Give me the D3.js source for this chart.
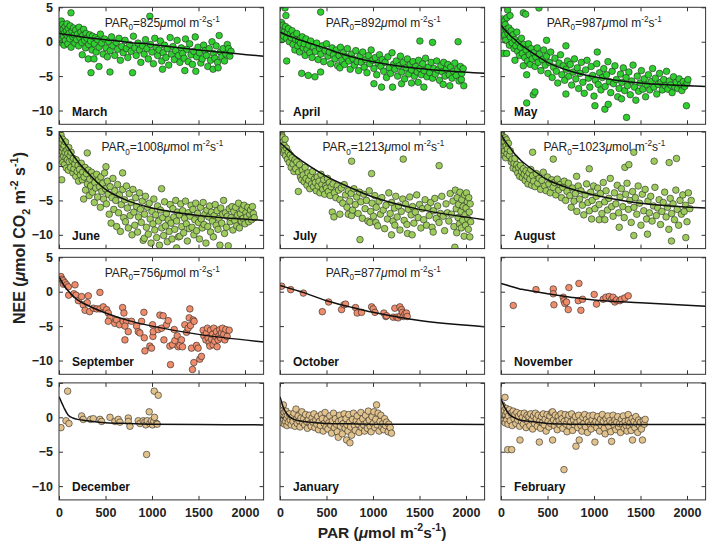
<!DOCTYPE html>
<html><head><meta charset="utf-8">
<script src="https://cdn.jsdelivr.net/npm/d3@7"></script>
<style>
html,body{margin:0;padding:0;background:#fff;}
svg{display:block;font-family:"Liberation Sans",Arial,sans-serif;}
</style></head>
<body><svg id="c" width="709" height="546"></svg>
<script>
// ---------- data ----------
const months = ["March","April","May","June","July","August","September","October","November","December","January","February"];
const par0Labels = ["825","892","987","1008","1213","1023","756","877",null,null,null,null];
const xTicks = [0,500,1000,1500,2000];
const yTicks = [-10,-5,0,5];
const fitPAR = [0,50,100,150,200,250,500,750,1000,1500,2200];

const marchFit  = [1.2,1.1,1.0,0.9,0.8,0.7,0.3,-0.1,-0.4,-1.2,-2.1];
const aprilFit  = [1.4,1.1,0.8,0.6,0.3,0.1,-1.0,-2.1,-2.9,-3.9,-4.6];
const mayFit    = [2.4,1.6,0.9,0.3,-0.3,-0.8,-3.0,-4.3,-5.1,-6.0,-6.5];
const juneFit   = [4.7,3.6,2.6,1.6,0.7,-0.1,-3.4,-5.1,-6.1,-7.2,-7.9];
const julyFit   = [3.4,2.8,2.2,1.6,1.1,0.6,-1.5,-3.1,-4.5,-6.3,-7.8];
const augustFit = [4.6,3.5,2.6,1.7,1.0,0.4,-2.0,-3.3,-4.2,-5.4,-6.1];
const septFit   = [2.2,1.0,0.1,-0.6,-1.2,-1.6,-3.1,-4.2,-5.0,-6.2,-7.3];
const octFit    = [0.9,0.7,0.5,0.3,0.1,-0.1,-1.3,-2.2,-3.0,-4.2,-5.1];
const novFit    = [1.2,1.0,0.8,0.6,0.4,0.3,-0.3,-0.8,-1.2,-1.6,-2.1];
const decFit    = [3.0,1.5,0.3,-0.1,-0.3,-0.4,-0.8,-0.9,-1.0,-1.05,-1.1];
const janFit    = [3.0,1.0,0.1,-0.3,-0.5,-0.6,-0.9,-0.95,-1.0,-1.0,-1.05];
const febFit    = [2.7,1.2,0.3,-0.1,-0.4,-0.5,-0.9,-1.0,-1.05,-1.05,-1.05];

const marchPts = [[10,1.5],[15,0.5],[20,2.0],[25,3.0],[30,1.0],[35,-0.2],[40,2.5],[45,1.8],[50,0.8],[55,-0.5],[60,1.3],[65,2.2],[70,0.2],[80,1.6],[85,2.6],[90,0.9],[95,-0.3],[100,1.9],[110,1.2],[115,0.4],[120,2.3],[129,4.2],[130,-0.8],[140,1.5],[150,0.7],[155,2.0],[165,1.0],[170,-0.2],[180,1.7],[190,0.3],[200,1.1],[210,-0.6],[215,2.1],[225,0.6],[235,1.4],[245,-0.1],[250,-1.9],[255,0.9],[265,1.8],[275,0.2],[285,-0.9],[290,1.2],[300,0.5],[315,-2.5],[320,-0.4],[330,1.0],[340,0.1],[344,-4.5],[355,-1.2],[360,0.8],[376,-2.5],[380,-0.3],[395,0.6],[400,-1.5],[415,0.3],[430,-3.6],[430,-0.8],[445,1.1],[460,-0.2],[475,-1.8],[490,0.4],[505,-0.9],[520,-2.2],[535,0.0],[548,-4.4],[550,-1.3],[565,0.7],[580,-0.6],[600,-2.0],[615,-0.1],[630,-1.1],[645,0.5],[660,-2.7],[675,-0.7],[690,-1.6],[710,0.2],[725,-1.0],[740,-2.3],[760,-0.4],[775,-1.4],[791,-4.5],[800,0.8],[815,-0.9],[830,-2.0],[850,-0.2],[865,-1.2],[880,-3.0],[900,-0.6],[915,-1.8],[930,0.3],[945,-1.0],[960,-2.5],[977,3.7],[985,-0.4],[1000,-1.5],[1015,-3.2],[1030,0.5],[1045,-0.8],[1060,-2.0],[1075,-1.2],[1090,0.1],[1105,-2.8],[1113,-4.0],[1120,-1.6],[1135,-0.5],[1150,-2.3],[1165,-1.0],[1180,-3.4],[1195,0.6],[1210,-1.8],[1225,-0.7],[1240,-2.6],[1255,-1.3],[1270,0.2],[1285,-2.0],[1300,-3.0],[1315,-0.9],[1330,-1.7],[1345,-2.4],[1353,-4.2],[1360,0.4],[1375,-1.1],[1390,-2.9],[1405,-0.3],[1420,-1.9],[1435,-3.3],[1450,-1.4],[1465,0.7],[1471,-4.3],[1480,-2.2],[1495,-0.8],[1510,-1.6],[1525,-3.1],[1540,-2.5],[1555,-0.5],[1570,-1.3],[1585,-2.0],[1600,-3.6],[1615,-1.0],[1630,-2.7],[1645,0.0],[1657,-4.0],[1660,-1.7],[1675,-2.4],[1690,-0.6],[1705,-3.0],[1711,-3.8],[1722,0.9],[1735,-1.5],[1750,-2.2],[1765,-1.0],[1780,-2.8],[1795,-1.8],[1810,-0.4],[1822,-1.0],[1837,-2.1],[1850,-1.4]];

const aprilPts = [[5,2.0],[10,1.0],[15,2.8],[20,0.3],[25,1.7],[30,2.4],[40,0.8],[50,1.5],[54,4.9],[60,2.2],[64,3.8],[70,0.5],[72,-2.8],[80,1.3],[90,1.9],[100,0.0],[110,1.1],[120,0.6],[130,1.6],[140,-0.4],[150,0.9],[160,-1.2],[170,0.3],[180,1.2],[190,-0.6],[200,0.2],[210,-1.5],[220,-0.2],[233,-4.6],[240,0.7],[250,-0.9],[260,-0.3],[270,-2.0],[280,0.4],[290,-1.1],[304,-4.9],[310,-0.5],[320,-1.6],[330,0.1],[345,-2.3],[360,-0.8],[376,-5.1],[380,-1.4],[395,-0.2],[410,-2.6],[425,-1.0],[437,4.3],[437,-4.4],[440,-1.8],[455,-0.6],[470,-2.9],[485,-1.3],[500,-0.3],[515,-2.1],[530,-1.5],[545,-3.2],[560,-0.9],[575,-1.9],[590,-2.5],[605,-1.2],[620,-3.5],[635,-2.0],[644,-3.8],[650,-0.8],[665,-2.7],[680,-1.6],[695,-3.3],[710,-2.2],[725,-1.0],[740,-2.8],[755,-4.0],[770,-1.8],[785,-2.5],[800,-3.4],[815,-1.3],[830,-2.9],[845,-4.2],[860,-2.1],[875,-3.0],[890,-1.5],[905,-3.7],[920,-2.6],[935,-4.5],[950,-2.0],[965,-3.2],[980,-1.2],[995,-2.7],[1010,-6.1],[1010,-3.9],[1025,-2.3],[1040,-4.8],[1055,-3.1],[1070,-1.9],[1085,-3.6],[1092,-6.6],[1100,-2.6],[1115,-4.3],[1130,-3.0],[1145,-5.2],[1160,-2.2],[1175,-3.8],[1190,-4.6],[1205,-1.6],[1210,-6.6],[1220,-3.3],[1235,-4.0],[1250,-2.8],[1265,-5.0],[1280,-3.5],[1295,-2.1],[1307,-6.1],[1310,-4.4],[1325,-3.0],[1340,-5.4],[1355,-3.8],[1370,-2.5],[1385,-4.7],[1400,-3.3],[1414,-6.0],[1415,-4.1],[1430,-2.9],[1445,-5.0],[1460,-3.6],[1475,-4.4],[1486,-5.9],[1490,-2.7],[1504,0.1],[1505,-3.9],[1520,-4.8],[1535,-3.2],[1547,-6.6],[1550,-4.2],[1565,-2.4],[1580,-5.1],[1595,-3.7],[1610,-4.5],[1625,-3.0],[1640,-0.1],[1640,-5.3],[1655,-3.9],[1670,-4.7],[1685,-2.8],[1700,-4.1],[1715,-5.6],[1730,-3.5],[1745,-4.4],[1754,-6.2],[1760,-3.0],[1775,-5.0],[1790,-4.0],[1805,-3.3],[1820,-4.8],[1826,-6.4],[1835,-3.7],[1850,-5.3],[1865,-4.3],[1880,-3.1],[1895,-4.9],[1910,-4.0],[1915,0.0],[1925,-5.7],[1940,-3.6],[1951,-5.5],[1955,-4.6],[1976,-6.4],[1970,-3.9]];

const mayPts = [[5,2.8],[10,1.5],[15,3.3],[20,0.8],[25,-1.7],[30,2.2],[35,3.0],[40,1.0],[45,2.5],[50,0.2],[55,1.8],[61,-1.7],[65,3.5],[72,4.6],[75,1.2],[85,2.0],[90,-0.5],[97,3.8],[100,0.7],[110,1.6],[120,-0.2],[130,1.0],[140,-1.0],[150,-2.7],[150,0.3],[160,-0.6],[170,1.4],[180,-1.4],[190,-0.1],[200,-2.0],[210,-0.8],[220,0.5],[230,-1.7],[240,-3.5],[240,4.2],[245,-0.4],[255,-2.3],[265,4.0],[270,-1.2],[276,-4.8],[276,-8.9],[285,-2.8],[295,-0.3],[305,-1.9],[315,-3.3],[325,-1.0],[335,-2.5],[347,-7.7],[350,-1.6],[365,-7.3],[365,-3.6],[375,-2.2],[390,-0.9],[400,-3.0],[408,4.9],[415,-1.8],[430,-4.2],[445,-2.6],[460,-1.2],[475,-3.4],[490,0.2],[490,-2.1],[505,-4.6],[520,-3.0],[535,-1.5],[550,-5.2],[565,-3.7],[580,-2.4],[595,-4.3],[610,-6.0],[625,-3.1],[640,-1.9],[655,-4.8],[670,-3.5],[685,-5.6],[698,-0.6],[698,-7.6],[700,-4.0],[715,-2.8],[730,-5.0],[745,-3.3],[760,-6.3],[775,-4.4],[790,-2.5],[805,-5.4],[820,-3.8],[835,-6.8],[850,-4.6],[865,-3.0],[880,-5.9],[895,-7.5],[910,-4.1],[925,-2.7],[940,-5.3],[955,-6.6],[970,-3.6],[985,-4.9],[1000,-7.9],[1010,-9.3],[1015,-5.6],[1030,-3.2],[1035,-1.5],[1045,-6.2],[1060,-4.5],[1075,-7.0],[1090,-5.2],[1105,-3.9],[1117,-9.8],[1120,-6.5],[1135,-4.8],[1150,-2.9],[1153,-9.1],[1165,-5.8],[1180,-7.4],[1195,-4.3],[1210,-6.1],[1225,-3.5],[1240,-5.5],[1255,-8.0],[1270,-6.8],[1285,-4.7],[1296,-8.3],[1300,-5.9],[1315,-3.8],[1330,-7.1],[1345,-5.2],[1350,-11.0],[1360,-6.4],[1375,-4.4],[1390,-7.7],[1405,-5.7],[1420,-3.4],[1435,-6.6],[1450,-8.5],[1465,-5.0],[1480,-7.2],[1495,-6.0],[1510,-4.2],[1525,-6.9],[1540,-5.4],[1555,-8.0],[1570,-6.3],[1585,-4.8],[1600,-7.0],[1615,-5.8],[1630,-3.9],[1645,-6.6],[1660,-5.3],[1675,-7.6],[1690,-6.2],[1705,-4.6],[1720,-5.9],[1735,-7.0],[1750,-5.5],[1765,-6.4],[1780,-4.3],[1795,-6.9],[1810,-5.7],[1825,-6.3],[1840,-7.4],[1855,-5.1],[1870,-6.6],[1885,-5.9],[1900,-6.8],[1915,-5.4],[1930,-6.2],[1945,-7.1],[1960,-5.8],[1975,-6.5],[1994,-9.3],[2000,-6.0],[2010,-5.5]];

const junePts = [[5,4.3],[8,3.2],[10,2.5],[12,4.0],[15,1.6],[18,3.6],[20,2.8],[22,4.5],[25,1.0],[29,-2.0],[30,3.3],[35,2.1],[38,3.9],[40,0.5],[45,2.6],[50,1.4],[55,3.0],[60,0.2],[65,2.0],[70,3.5],[75,1.2],[80,-0.3],[85,2.3],[90,0.9],[95,1.8],[100,-0.6],[105,2.7],[110,0.6],[120,1.5],[125,-0.2],[130,2.0],[140,0.8],[150,-1.0],[155,1.1],[160,-0.4],[170,0.3],[180,-1.5],[185,0.9],[195,-0.8],[205,0.1],[210,-2.2],[220,-0.5],[230,-1.3],[240,0.4],[250,-2.0],[255,-0.9],[265,-4.8],[270,-1.6],[280,-0.2],[285,-3.5],[295,-1.1],[304,1.9],[305,-2.6],[315,-0.6],[325,-4.3],[330,-1.9],[340,-2.9],[350,-0.9],[360,-3.8],[370,-1.5],[380,-5.3],[385,-2.4],[395,-3.2],[405,-1.2],[415,-4.5],[425,-2.0],[435,-3.0],[445,-6.0],[450,-1.6],[460,-3.7],[470,-2.5],[480,-4.8],[490,-1.0],[500,-3.3],[505,-0.1],[510,-5.5],[520,-2.2],[530,-4.1],[540,-7.0],[550,-3.0],[560,-8.3],[570,-4.6],[580,-1.8],[590,-6.3],[600,-3.6],[610,-5.0],[620,-8.8],[630,-2.7],[640,-6.8],[650,-4.2],[660,-9.5],[670,-5.6],[684,-1.0],[685,-3.4],[695,-7.5],[705,-4.9],[715,-8.1],[725,-2.9],[735,-6.1],[745,-9.0],[755,-4.0],[765,-7.2],[775,-5.3],[785,-10.0],[795,-3.4],[805,-6.7],[815,-8.6],[825,-4.6],[835,-5.9],[845,-9.6],[855,-7.4],[865,-3.9],[875,-6.3],[885,-8.2],[895,-5.1],[905,-10.8],[917,-10.5],[920,-7.0],[930,-4.4],[940,-8.9],[950,-6.0],[960,-9.9],[970,-5.4],[980,-7.7],[990,-11.2],[1000,-6.6],[1010,-8.4],[1020,-4.8],[1030,-9.3],[1040,-7.1],[1050,-10.4],[1060,-5.8],[1070,-8.0],[1080,-11.5],[1090,-6.4],[1103,-3.3],[1105,-9.0],[1115,-7.5],[1125,-10.1],[1135,-5.2],[1145,-8.7],[1155,-6.9],[1165,-11.0],[1175,-7.8],[1185,-9.5],[1195,-5.6],[1205,-8.3],[1215,-10.6],[1225,-6.2],[1235,-7.4],[1245,-9.2],[1255,-5.0],[1264,-11.9],[1265,-8.0],[1275,-6.7],[1285,-10.3],[1295,-7.1],[1300,-10.2],[1310,-5.5],[1320,-8.8],[1330,-6.5],[1340,-9.7],[1350,-7.6],[1360,-5.1],[1370,-8.4],[1380,-10.9],[1390,-6.8],[1400,-9.1],[1410,-7.3],[1420,-5.7],[1430,-8.9],[1440,-6.3],[1450,-10.0],[1460,-7.8],[1470,-5.4],[1480,-9.4],[1490,-6.9],[1500,-8.2],[1510,-10.6],[1520,-6.0],[1530,-7.7],[1540,-9.0],[1550,-5.3],[1560,-8.5],[1570,-7.0],[1580,-11.2],[1590,-6.4],[1600,-8.8],[1610,-7.4],[1620,-5.8],[1630,-9.6],[1640,-6.7],[1650,-8.0],[1660,-10.3],[1670,-7.2],[1680,-5.6],[1690,-8.6],[1700,-6.5],[1710,-9.2],[1720,-7.6],[1730,-11.5],[1740,-6.1],[1750,-8.3],[1760,-7.0],[1770,-5.0],[1780,-9.8],[1790,-6.8],[1800,-8.9],[1810,-7.3],[1820,-11.6],[1830,-6.2],[1840,-8.1],[1850,-7.5],[1860,-5.9],[1870,-9.3],[1880,-6.6],[1890,-7.9],[1900,-6.0],[1910,-8.7],[1920,-7.1],[1930,-5.4],[1940,-9.0],[1950,-6.9],[1960,-8.0],[1970,-6.3],[1980,-7.6],[1990,-5.7],[2000,-8.4],[2010,-6.8],[2020,-7.4],[2030,-6.0],[2040,-8.1],[2050,-7.0],[2060,-6.4],[2070,-7.8],[2080,-5.9],[2090,-6.9],[2100,-7.5]];

const julyPts = [[5,3.8],[8,4.5],[10,2.9],[12,4.0],[15,3.3],[18,4.6],[20,2.4],[22,3.7],[25,4.2],[30,2.8],[35,3.5],[40,1.9],[45,3.0],[50,2.3],[55,3.9],[60,1.5],[70,2.6],[80,1.0],[90,2.0],[100,0.5],[110,1.6],[120,-0.2],[130,1.2],[140,0.3],[150,-0.8],[160,0.9],[170,-0.4],[180,0.6],[197,-3.7],[200,-0.9],[210,0.2],[220,-1.6],[233,-2.0],[240,-0.6],[250,-1.3],[260,-2.3],[270,-0.2],[280,-1.8],[290,-2.8],[300,-1.0],[310,-2.1],[320,-3.3],[330,-1.4],[340,-2.6],[350,-0.8],[360,-3.0],[370,-1.9],[380,-2.4],[390,-3.6],[400,-1.6],[410,-2.9],[420,-2.2],[430,-3.9],[440,-1.2],[450,-2.7],[460,-3.4],[470,-2.0],[480,-4.1],[490,-2.9],[500,-3.2],[510,-1.8],[520,-3.7],[530,-2.4],[540,-4.3],[550,-3.0],[562,-6.7],[570,-2.6],[580,-7.4],[585,-3.9],[600,-4.6],[615,-2.9],[630,-3.5],[644,-7.0],[645,-4.9],[660,-3.2],[675,-5.4],[690,-2.7],[705,-4.2],[720,-6.0],[734,-7.0],[735,-3.6],[750,-5.1],[765,-4.0],[770,0.7],[770,-7.2],[780,-6.4],[795,-3.3],[810,-5.6],[825,-4.5],[840,-6.9],[855,-3.8],[860,-10.7],[870,-5.2],[885,-7.6],[900,-4.1],[915,-6.2],[930,-5.0],[945,-8.0],[960,-3.6],[967,-8.2],[975,-6.6],[985,-1.1],[990,-5.4],[1005,-7.3],[1020,-4.3],[1031,-8.2],[1035,-6.0],[1050,-8.7],[1065,-5.1],[1080,-7.0],[1095,-4.6],[1110,-6.4],[1125,-9.1],[1140,-5.7],[1155,-7.7],[1170,-3.9],[1185,-6.9],[1199,-10.0],[1200,-5.3],[1215,-8.0],[1235,-8.6],[1230,-6.1],[1245,-4.4],[1260,-7.4],[1275,-5.8],[1290,-9.3],[1305,-6.6],[1320,-4.8],[1325,1.0],[1335,-7.9],[1350,-5.5],[1365,-8.5],[1371,-9.8],[1380,-6.3],[1395,-4.5],[1410,-7.1],[1421,-10.0],[1425,-5.9],[1440,-8.3],[1455,-6.7],[1470,-4.2],[1485,-7.5],[1500,-5.6],[1515,-9.0],[1530,-6.2],[1545,-7.8],[1560,-4.9],[1575,-8.6],[1590,-6.0],[1605,-7.2],[1620,-5.3],[1635,-8.9],[1647,-9.6],[1650,-6.5],[1665,-4.7],[1680,-7.6],[1695,-5.8],[1711,0.05],[1710,-8.2],[1725,-6.9],[1740,-4.4],[1755,-7.3],[1770,-9.4],[1785,-5.5],[1800,-6.8],[1815,-8.0],[1830,-4.0],[1845,-7.0],[1860,-5.1],[1870,-8.8],[1880,-11.8],[1885,-3.5],[1895,-6.2],[1900,-9.7],[1905,-4.6],[1915,-7.5],[1920,-5.6],[1930,-8.4],[1935,-3.8],[1945,-6.6],[1950,-9.0],[1955,-4.9],[1965,-7.9],[1970,-5.9],[1980,-10.2],[1985,-4.2],[1990,-7.1],[1995,-8.6],[2000,-6.1],[2005,-3.9],[2015,-5.2],[2020,-7.7],[2025,-9.2],[2030,-4.6],[2035,-6.7],[2041,-10.3],[2045,-5.5],[2050,-8.1]];

const augustPts = [[5,3.5],[8,4.6],[10,2.4],[12,3.9],[15,4.3],[18,2.0],[20,3.2],[25,4.0],[28,2.7],[30,1.6],[35,3.6],[40,2.2],[45,4.1],[50,1.2],[55,2.9],[60,3.8],[65,1.8],[70,2.5],[80,3.3],[90,1.5],[100,2.2],[110,0.6],[120,1.0],[130,-0.3],[140,0.4],[150,1.1],[160,-0.5],[170,0.2],[180,-1.0],[190,-0.2],[200,-1.5],[210,0.1],[220,-0.8],[230,-1.7],[240,-0.4],[250,-1.2],[260,-2.1],[270,-0.7],[280,-1.5],[290,-2.6],[300,-1.0],[310,-1.9],[320,-0.5],[330,-2.8],[340,2.0],[340,-1.4],[350,-2.2],[365,-3.0],[380,-1.1],[395,-2.5],[410,-1.8],[425,-3.4],[440,-2.1],[455,-0.9],[470,-2.9],[485,-3.6],[500,-1.6],[515,-2.6],[530,-3.9],[545,-2.0],[562,1.0],[560,-3.1],[575,-2.4],[590,-4.2],[605,-1.9],[620,-3.5],[635,-2.7],[650,-4.6],[665,-3.1],[680,-2.2],[695,-5.0],[710,-3.7],[725,-2.5],[740,-4.3],[755,-6.0],[770,-3.2],[785,-5.1],[800,-4.0],[813,-1.5],[815,-6.6],[830,-2.9],[845,-4.8],[860,-3.6],[875,-5.7],[890,-7.1],[905,-4.2],[920,-2.6],[935,-5.3],[949,-0.4],[950,-6.5],[965,-3.8],[974,-7.7],[980,-5.0],[995,-2.9],[1010,-6.2],[1025,-4.4],[1040,-3.2],[1056,-7.8],[1055,-5.6],[1070,-4.0],[1085,-6.9],[1100,-2.4],[1117,-7.8],[1115,-5.2],[1130,-3.6],[1145,-6.4],[1160,-4.7],[1175,-1.8],[1190,-5.9],[1205,-7.3],[1220,-3.9],[1235,-5.5],[1250,-2.8],[1265,-6.8],[1271,-8.9],[1280,-4.5],[1295,-3.3],[1310,-5.9],[1325,-7.5],[1332,-0.2],[1340,-4.1],[1355,-2.5],[1370,-6.3],[1375,0.2],[1385,-5.0],[1400,-8.2],[1415,-3.7],[1428,2.0],[1428,-10.1],[1430,-6.0],[1445,-4.6],[1460,-7.0],[1475,-2.9],[1490,-5.4],[1505,-8.6],[1520,-4.1],[1535,-6.5],[1550,-3.4],[1565,-7.7],[1575,-9.9],[1580,-5.1],[1595,-6.8],[1610,-4.4],[1625,-8.0],[1640,-5.8],[1647,0.7],[1655,-3.1],[1670,-7.2],[1685,-6.1],[1700,-4.9],[1715,-8.5],[1730,-6.6],[1745,-5.3],[1760,-3.8],[1775,-7.4],[1790,-6.0],[1805,-9.2],[1808,0.5],[1820,-4.7],[1833,-10.9],[1835,-6.9],[1850,-5.5],[1865,-7.8],[1880,-3.5],[1887,1.1],[1895,-6.3],[1910,-8.6],[1925,-5.0],[1940,-7.0],[1955,-4.2],[1970,-6.6],[1987,-10.4],[1985,-5.7],[2000,-8.1],[2015,-3.9],[2030,-6.2],[2045,-5.0]];

const septPts = [[4,1.9],[21,2.2],[32,1.8],[47,1.6],[47,1.1],[64,1.3],[82,1.0],[100,0.7],[104,-0.5],[160,-0.3],[172,1.0],[183,-0.5],[208,-1.3],[243,-0.7],[260,-1.9],[280,-2.7],[304,-1.6],[315,-0.6],[330,-2.9],[369,-2.4],[405,-2.5],[440,-0.1],[440,-2.5],[476,-2.2],[512,-2.6],[530,-3.1],[548,-3.8],[530,-4.3],[600,-4.6],[619,-4.1],[650,-4.8],[684,-2.3],[698,-3.1],[691,-4.3],[727,-4.3],[709,-5.0],[709,-7.0],[745,-5.8],[780,-4.3],[834,-5.0],[852,-5.8],[870,-6.0],[888,-4.3],[913,-3.0],[917,-6.7],[924,-8.6],[977,-7.9],[995,-8.2],[1006,-4.8],[1010,-6.5],[1013,-5.8],[1067,-5.5],[1085,-3.4],[1103,-5.3],[1120,-3.5],[1128,-7.0],[1156,-4.8],[1174,-4.2],[1192,-7.9],[1199,-10.6],[1221,-7.7],[1239,-5.5],[1246,-7.1],[1271,-6.4],[1282,-8.0],[1300,-7.8],[1317,-7.0],[1328,-8.0],[1353,-4.8],[1371,-5.9],[1389,-5.3],[1400,-3.8],[1407,-2.5],[1414,-4.9],[1425,-8.2],[1443,-4.1],[1453,-4.3],[1450,-10.3],[1435,-11.3],[1478,-7.8],[1496,-8.2],[1514,-9.8],[1532,-9.4],[1550,-5.6],[1557,-6.4],[1579,-7.0],[1586,-6.0],[1596,-5.3],[1604,-6.7],[1615,-7.4],[1622,-7.9],[1629,-5.6],[1640,-6.9],[1650,-6.2],[1657,-7.7],[1665,-5.3],[1675,-7.2],[1686,-6.5],[1693,-5.8],[1700,-8.0],[1711,-7.0],[1722,-6.4],[1729,-5.5],[1736,-6.7],[1747,-6.0],[1758,-5.3],[1772,-6.2],[1783,-7.0],[1794,-5.5],[1808,-6.5],[1830,-5.6]];

const octPts = [[18,0.8],[115,0.3],[251,-0.2],[455,-2.9],[523,-1.5],[662,-2.6],[688,-1.9],[705,-1.8],[812,-2.3],[830,-3.1],[877,-3.0],[985,-2.2],[1003,-2.5],[1021,-3.0],[1117,-3.1],[1138,-3.6],[1146,-3.5],[1217,-3.7],[1235,-2.4],[1253,-3.7],[1271,-3.8],[1289,-2.2],[1296,-3.5],[1307,-2.6],[1317,-3.0],[1325,-3.6],[1343,-3.2],[1360,-3.1],[1368,-3.6]];

const novPts = [[132,-2.0],[376,0.3],[562,0.4],[562,-0.3],[569,-1.9],[669,-0.8],[677,-1.3],[687,-1.7],[705,-1.5],[723,-2.6],[730,0.6],[838,1.2],[831,-1.3],[859,-2.7],[877,-1.1],[1002,-0.4],[1027,-1.8],[1099,-1.1],[1128,-0.8],[1163,-0.7],[1189,-1.1],[1206,-0.8],[1224,-1.5],[1242,-1.2],[1278,-1.3],[1296,-1.1],[1332,-0.9],[1368,-0.6]];

const decPts = [[21,-1.5],[93,3.8],[75,-0.5],[107,-0.9],[243,0.2],[261,-0.3],[340,-0.3],[369,-0.2],[440,-0.3],[458,-0.6],[548,0.0],[601,-0.6],[637,-0.3],[655,-0.7],[745,-0.1],[745,-0.6],[763,-1.3],[852,-0.5],[870,-0.9],[906,-0.5],[924,-0.7],[934,-1.1],[949,-0.5],[970,0.8],[977,-0.9],[995,-0.5],[1006,-1.1],[1020,-0.6],[1027,0.0],[1049,-0.9],[1056,-1.0],[942,-5.4],[1024,3.8],[1067,3.2]];

const janPts = [[5,1.0],[8,-0.2],[10,0.5],[12,1.4],[15,-0.5],[18,0.2],[20,0.9],[25,-0.8],[30,0.4],[36,1.8],[40,-0.3],[45,0.7],[50,-1.0],[55,0.1],[60,-0.6],[65,0.9],[70,-0.1],[75,-1.2],[80,0.3],[90,-0.7],[100,0.5],[110,-0.4],[120,-1.1],[130,0.0],[140,-0.6],[150,0.6],[160,-1.3],[172,1.2],[175,-0.3],[185,-0.9],[195,0.2],[205,-0.5],[215,-1.4],[225,-0.1],[235,0.8],[245,-0.8],[255,-0.2],[265,-1.1],[275,0.4],[285,-0.6],[295,-1.6],[305,-0.3],[315,0.3],[325,-0.9],[335,-1.3],[345,-0.1],[355,-0.7],[365,0.5],[375,-1.5],[385,-0.4],[395,-1.0],[405,0.1],[415,-1.8],[425,-0.6],[435,-1.2],[445,0.4],[455,-0.2],[465,-2.0],[475,-0.9],[485,0.7],[495,-1.4],[505,-0.3],[515,-1.7],[525,-0.8],[535,0.2],[545,-1.1],[555,-2.3],[565,-0.5],[575,0.6],[585,-1.5],[595,-0.2],[605,-1.0],[615,-2.1],[627,-2.9],[630,-0.6],[640,0.3],[650,-1.3],[660,-0.4],[670,-2.4],[680,-0.9],[690,0.5],[700,-1.6],[716,-3.3],[710,-0.2],[720,-1.1],[730,-2.0],[740,0.4],[752,-3.7],[750,-0.7],[760,-1.4],[770,-2.6],[780,-0.3],[790,0.6],[800,-1.2],[810,-1.9],[820,-0.5],[830,0.2],[840,-1.0],[850,-2.2],[860,-0.6],[870,0.7],[880,-1.5],[890,-0.2],[900,-1.1],[910,-2.0],[920,0.3],[930,-0.8],[940,-1.6],[950,0.9],[960,-0.4],[970,-1.3],[980,-2.1],[990,0.1],[1000,-0.9],[1010,0.8],[1020,-1.5],[1030,-0.3],[1038,1.8],[1045,-1.1],[1055,0.6],[1065,-2.0],[1075,-0.6],[1085,0.3],[1095,-1.4],[1105,-0.9],[1115,-1.8],[1125,-0.2],[1135,-1.2],[1145,-0.7],[1163,-2.1],[1170,-1.0],[1185,-1.5],[1199,-2.3]];

const febPts = [[5,1.2],[8,0.2],[10,1.8],[12,-0.5],[15,0.8],[20,1.5],[25,-0.2],[30,0.5],[35,1.0],[43,2.9],[45,-0.8],[50,0.3],[55,1.3],[60,-0.3],[65,0.7],[72,-4.7],[75,-1.0],[80,0.2],[90,1.1],[100,-0.5],[110,0.6],[115,-4.7],[120,-1.2],[130,0.9],[140,-0.2],[150,0.4],[160,-0.9],[170,0.7],[180,-0.4],[190,0.2],[204,-3.3],[200,-1.3],[210,0.5],[220,-0.6],[230,0.0],[240,-1.0],[250,0.6],[260,-0.3],[270,-1.5],[280,0.3],[290,-0.7],[300,0.1],[310,-1.2],[320,0.5],[330,-0.4],[340,-1.7],[350,0.2],[360,-0.9],[370,0.6],[380,-0.2],[390,-1.3],[400,0.3],[412,-3.6],[415,-0.6],[425,-1.6],[435,0.1],[445,-0.8],[455,0.5],[465,-1.1],[475,-0.3],[485,-2.0],[495,0.4],[505,-0.6],[515,-1.4],[525,0.2],[535,-0.9],[545,0.7],[555,-3.3],[555,0.8],[565,-0.4],[575,-1.2],[585,0.3],[595,-0.7],[605,-1.8],[615,0.1],[625,-0.5],[635,-1.1],[645,0.5],[655,-0.2],[665,-1.6],[677,-7.6],[680,-0.6],[690,0.4],[700,-1.0],[710,-2.1],[720,-0.3],[730,0.3],[740,-1.3],[750,-0.7],[760,0.5],[770,-1.9],[780,-0.4],[790,-1.1],[806,-4.2],[800,0.1],[815,-0.8],[825,-1.5],[835,0.3],[841,-3.3],[850,-0.5],[860,-1.2],[870,-2.0],[880,0.0],[890,-0.9],[900,0.4],[910,-1.4],[920,-0.3],[930,-2.2],[940,-0.7],[950,0.2],[960,-1.1],[970,-1.7],[980,-0.4],[990,0.3],[1000,-1.0],[1010,-3.6],[1020,-0.6],[1030,-1.5],[1040,0.1],[1050,-0.8],[1060,-2.0],[1070,-0.3],[1080,-1.2],[1090,0.4],[1100,-0.6],[1110,-1.6],[1120,-2.4],[1130,-0.2],[1140,-0.9],[1150,0.2],[1160,-1.3],[1170,-0.5],[1180,-2.1],[1189,-3.5],[1195,-0.8],[1205,0.3],[1215,-1.1],[1225,-0.4],[1235,-1.8],[1245,-0.7],[1255,0.1],[1265,-1.4],[1275,-0.9],[1285,-2.2],[1295,-0.3],[1305,-1.0],[1315,0.2],[1325,-1.6],[1335,-0.6],[1345,-1.2],[1355,-2.0],[1368,0.4],[1370,-0.5],[1380,-1.3],[1390,-0.8],[1400,-1.9],[1414,-3.3],[1410,-0.2],[1420,-1.0],[1430,-0.6],[1440,-1.5],[1450,0.1],[1460,-0.9],[1470,-2.2],[1480,-0.4],[1490,-1.2],[1500,-0.7],[1510,-1.7],[1521,-3.3],[1530,-0.5],[1540,-1.0],[1550,-0.3]];

const seasonColors = ["#2fcf2f","#9dcc5c","#ee8c6b","#e2c28c"];

// ---------- assemble ----------
const allPts = [marchPts,aprilPts,mayPts,junePts,julyPts,augustPts,septPts,octPts,novPts,decPts,janPts,febPts];
const allFits = [marchFit,aprilFit,mayFit,juneFit,julyFit,augustFit,septFit,octFit,novFit,decFit,janFit,febFit];

const colLeft = [59,280,501], colW = 204.6;
const rowTop = [7.3,131.6,257.3,382.9], rowH = 117;
const FONT = '"Liberation Sans",Arial,sans-serif';

const svg = d3.select("#c");
const defs = svg.append("defs");

function rich(textSel, parts, fs){
  let shift = 0;
  parts.forEach(p=>{
    const ts = textSel.append("tspan").text(p.t);
    let target = 0;
    if (p.s==="sup") target = -fs*0.42;
    if (p.s==="sub") target = fs*0.3;
    ts.attr("dy", target - shift);
    shift = target;
    if (p.s==="sup"||p.s==="sub") ts.attr("font-size", fs*0.68);
    if (p.it) ts.attr("font-style","italic");
  });
}

months.forEach((m,i)=>{
  const r = Math.floor(i/3), c = i%3;
  const L = colLeft[c], T = rowTop[r];
  const x = d3.scaleLinear().domain([0,2200]).range([L, L+colW]);
  const y = d3.scaleLinear().domain([-12,5]).range([T+rowH, T]);
  const g = svg.append("g");
  const clipId = "clip"+i;
  defs.append("clipPath").attr("id",clipId).append("rect")
    .attr("x",L).attr("y",T).attr("width",colW).attr("height",rowH);

  g.append("rect").attr("x",L).attr("y",T).attr("width",colW).attr("height",rowH)
    .attr("fill","#fff");

  const col = seasonColors[Math.floor(i/3)];
  g.append("g").attr("clip-path",`url(#${clipId})`)
    .selectAll("circle").data(allPts[i]).join("circle")
    .attr("cx",d=>x(d[0])).attr("cy",d=>y(d[1])).attr("r",3.3)
    .attr("fill",col).attr("stroke","#262626").attr("stroke-width",0.6);

  const fitData = fitPAR.map((p,k)=>[p, allFits[i][k]]);
  const line = d3.line().x(d=>x(d[0])).y(d=>y(d[1])).curve(d3.curveCatmullRom.alpha(0.5));
  g.append("path").attr("clip-path",`url(#${clipId})`).datum(fitData).attr("d",line)
    .attr("fill","none").attr("stroke","#111").attr("stroke-width",1.5);

  // axes with inward ticks
  const tickCol = "#333";
  const isLeft = c===0, isBottom = r===3;
  const ax = [
    {a:d3.axisBottom(x).tickValues(xTicks).tickSize(-4).tickSizeOuter(0).tickPadding(8)
        .tickFormat(isBottom?d3.format("d"):()=>""), tr:`translate(0,${T+rowH})`},
    {a:d3.axisTop(x).tickValues(xTicks).tickSize(-4).tickSizeOuter(0).tickFormat(()=>""), tr:`translate(0,${T})`},
    {a:d3.axisLeft(y).tickValues(yTicks).tickSize(-4).tickSizeOuter(0).tickPadding(6)
        .tickFormat(isLeft?d3.format("d"):()=>""), tr:`translate(${L},0)`},
    {a:d3.axisRight(y).tickValues(yTicks).tickSize(-4).tickSizeOuter(0).tickFormat(()=>""), tr:`translate(${L+colW},0)`}
  ];
  ax.forEach(o=>{
    const ag = g.append("g").attr("transform",o.tr).call(o.a);
    ag.select(".domain").remove();
    ag.selectAll("line").attr("stroke",tickCol).attr("stroke-width",1);
    ag.selectAll("text").attr("font-family",FONT).attr("font-weight","bold")
      .attr("font-size",12.5).attr("fill","#222");
  });

  g.append("rect").attr("x",L).attr("y",T).attr("width",colW).attr("height",rowH)
    .attr("fill","none").attr("stroke","#333").attr("stroke-width",1);

  g.append("text").attr("x",L+13).attr("y",T+rowH-8.5).text(m)
    .attr("font-family",FONT).attr("font-weight","bold").attr("font-size",12).attr("fill","#111");

  if (par0Labels[i]) {
    const t = g.append("text").attr("x",L+colW/2+1).attr("y",T+19.5)
      .attr("text-anchor","middle").attr("font-family",FONT).attr("font-size",12).attr("fill","#222");
    rich(t,[{t:"PAR"},{t:"0",s:"sub"},{t:"="+par0Labels[i]},{t:"\u03bc",it:true},{t:"mol m"},{t:"-2",s:"sup"},{t:"s"},{t:"-1",s:"sup"}],12);
  }
});

// axis titles
const xt = svg.append("text").attr("x",382).attr("y",538).attr("text-anchor","middle")
  .attr("font-family",FONT).attr("font-weight","bold").attr("font-size",15.5).attr("fill","#222");
rich(xt,[{t:"PAR ("},{t:"\u03bc",it:true},{t:"mol m"},{t:"-2",s:"sup"},{t:"s"},{t:"-1",s:"sup"},{t:")"}],15.5);

const yt = svg.append("text").attr("transform","translate(25,238) rotate(-90)").attr("text-anchor","middle")
  .attr("font-family",FONT).attr("font-weight","bold").attr("font-size",16).attr("fill","#222");
rich(yt,[{t:"NEE ("},{t:"\u03bc",it:true},{t:"mol CO"},{t:"2",s:"sub"},{t:" m"},{t:"-2",s:"sup"},{t:" s"},{t:"-1",s:"sup"},{t:")"}],16);
</script>
</body></html>
